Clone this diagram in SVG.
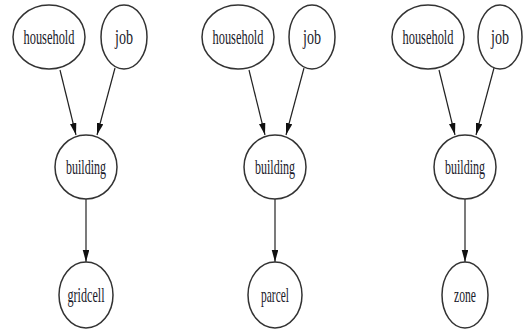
<svg xmlns="http://www.w3.org/2000/svg" width="525" height="331" viewBox="0 0 525 331">
<style>
.n{fill:#fff;stroke:#333;stroke-width:1.5}
.t{font-family:"Liberation Serif","Times New Roman",serif;font-size:21px;fill:#1a1a2a;text-anchor:middle}
.e{stroke:#222;stroke-width:1.2;fill:none;marker-end:url(#ah)}
</style>
<defs>
<marker id="ah" markerUnits="userSpaceOnUse" markerWidth="13" markerHeight="8" refX="12" refY="3.25" orient="auto">
<path d="M0,0 L12,3.25 L0,6.5 z" fill="#111"/>
</marker>
</defs>
<rect width="525" height="331" fill="#fff"/>
<g id="connectors">
<line class="e" x1="60" y1="70" x2="76" y2="135"/>
<line class="e" x1="115" y1="68" x2="97" y2="135"/>
<line class="e" x1="86" y1="199" x2="86" y2="262"/>
<line class="e" x1="249" y1="70" x2="265" y2="135"/>
<line class="e" x1="304" y1="68" x2="286" y2="135"/>
<line class="e" x1="275" y1="199" x2="275" y2="262"/>
<line class="e" x1="439" y1="70" x2="455" y2="135"/>
<line class="e" x1="494" y1="68" x2="476" y2="135"/>
<line class="e" x1="465" y1="199" x2="465" y2="262"/>
</g>
<g id="household1"><ellipse class="n" cx="49" cy="37" rx="36" ry="32"/><text class="t" x="49" y="44" textLength="51" lengthAdjust="spacingAndGlyphs">household</text></g>
<g id="job1"><ellipse class="n" cx="124" cy="37" rx="23" ry="32"/><text class="t" x="124" y="44" textLength="18" lengthAdjust="spacingAndGlyphs">job</text></g>
<g id="building1"><ellipse class="n" cx="86" cy="167" rx="31" ry="32"/><text class="t" x="86" y="174" textLength="40" lengthAdjust="spacingAndGlyphs">building</text></g>
<g id="gridcell"><ellipse class="n" cx="86" cy="295" rx="27" ry="33"/><text class="t" x="86" y="302" textLength="37" lengthAdjust="spacingAndGlyphs">gridcell</text></g>
<g id="household2"><ellipse class="n" cx="238" cy="37" rx="36" ry="32"/><text class="t" x="238" y="44" textLength="51" lengthAdjust="spacingAndGlyphs">household</text></g>
<g id="job2"><ellipse class="n" cx="312" cy="37" rx="23" ry="32"/><text class="t" x="312" y="44" textLength="18" lengthAdjust="spacingAndGlyphs">job</text></g>
<g id="building2"><ellipse class="n" cx="275" cy="167" rx="31" ry="32"/><text class="t" x="275" y="174" textLength="40" lengthAdjust="spacingAndGlyphs">building</text></g>
<g id="parcel"><ellipse class="n" cx="275" cy="295" rx="27" ry="33"/><text class="t" x="275" y="302" textLength="28" lengthAdjust="spacingAndGlyphs">parcel</text></g>
<g id="household3"><ellipse class="n" cx="428" cy="37" rx="36" ry="32"/><text class="t" x="428" y="44" textLength="51" lengthAdjust="spacingAndGlyphs">household</text></g>
<g id="job3"><ellipse class="n" cx="500" cy="37" rx="22" ry="32"/><text class="t" x="500" y="44" textLength="18" lengthAdjust="spacingAndGlyphs">job</text></g>
<g id="building3"><ellipse class="n" cx="465" cy="167" rx="31" ry="32"/><text class="t" x="465" y="174" textLength="40" lengthAdjust="spacingAndGlyphs">building</text></g>
<g id="zone"><ellipse class="n" cx="465" cy="295" rx="23" ry="33"/><text class="t" x="465" y="302" textLength="22" lengthAdjust="spacingAndGlyphs">zone</text></g>
</svg>
